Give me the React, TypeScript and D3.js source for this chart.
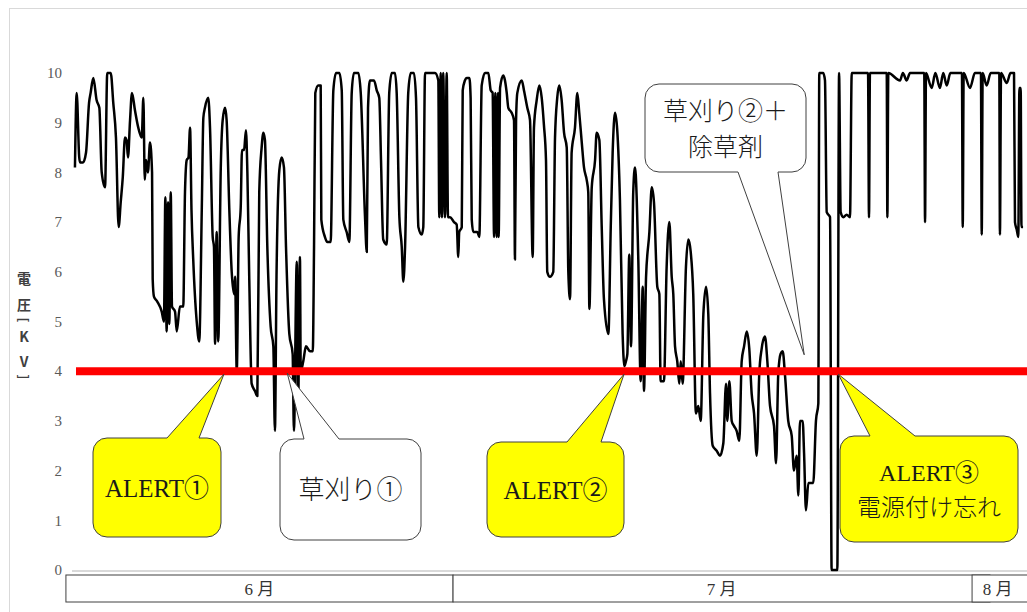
import React from 'react';
import * as d3 from 'd3';

const W = 1027;
const H = 612;

// [経過日数, 電圧 kV]
const voltage: [number, number][] = [
  [0.06, 8.1], [0.17, 9.6], [0.33, 8.3], [0.38, 8.2], [0.57, 8.2], [0.76, 8.4], [0.95, 9.4], [1.05, 9.6],
  [1.22, 9.9], [1.43, 9.45], [1.6, 9.3], [1.75, 8.0], [1.96, 7.7], [2.1, 10.0], [2.32, 10.0], [2.48, 9.4],
  [2.65, 8.7], [2.82, 6.9], [2.95, 7.4], [3.08, 7.9], [3.22, 8.7], [3.32, 8.65], [3.41, 8.3], [3.54, 9.05],
  [3.66, 9.6], [3.85, 9.25], [4.06, 8.9], [4.28, 8.7], [4.38, 9.5], [4.47, 7.85], [4.55, 8.25], [4.67, 8.0],
  [4.8, 8.6], [4.93, 8.0], [4.97, 5.85], [5.05, 5.5], [5.26, 5.4], [5.54, 5.2], [5.68, 5.0], [5.77, 7.5],
  [5.85, 4.8], [5.94, 7.4], [6.02, 4.95], [6.11, 7.6], [6.19, 5.3], [6.38, 5.2], [6.49, 4.8], [6.69, 5.3],
  [6.9, 5.3], [7.01, 7.6], [7.12, 8.25], [7.23, 8.3], [7.33, 8.9], [7.42, 7.25], [7.53, 6.25], [7.75, 5.0],
  [7.91, 4.6], [8.07, 7.25], [8.17, 9.1], [8.27, 9.3], [8.48, 9.5], [8.59, 8.9], [8.76, 6.7], [8.84, 6.5],
  [8.91, 4.55], [9.01, 6.8], [9.11, 4.6], [9.27, 8.1], [9.39, 9.05], [9.54, 9.3], [9.64, 9.05], [9.81, 7.25],
  [9.96, 6.0], [10.11, 5.55], [10.17, 5.9], [10.28, 4.0], [10.4, 6.7], [10.53, 7.3], [10.61, 8.45], [10.74, 8.45],
  [10.86, 8.85], [10.95, 8.0], [11.07, 5.85], [11.22, 3.75], [11.43, 3.6], [11.58, 3.5], [11.7, 7.6], [11.85, 8.5],
  [11.96, 8.8], [12.06, 8.65], [12.21, 6.5], [12.42, 4.9], [12.59, 4.5], [12.69, 2.8], [12.79, 5.9], [12.97, 8.05],
  [13.12, 8.3], [13.26, 8.1], [13.39, 6.5], [13.6, 4.75], [13.81, 4.35], [13.89, 2.8], [14.07, 6.2], [14.15, 3.2],
  [14.27, 6.3], [14.32, 4.0], [14.48, 4.2], [14.65, 4.5], [14.91, 4.4], [15.08, 4.4], [15.16, 6.5], [15.24, 9.6],
  [15.43, 9.75], [15.58, 9.75], [15.62, 7.05], [15.85, 6.7], [16.0, 6.6], [16.21, 6.6], [16.38, 9.65], [16.55, 10.0],
  [16.76, 10.0], [16.91, 9.65], [17.01, 7.05], [17.22, 6.8], [17.39, 6.6], [17.54, 9.6], [17.68, 10.0], [17.96, 10.0],
  [18.11, 9.6], [18.38, 7.1], [18.49, 6.4], [18.57, 9.3], [18.69, 9.85], [18.95, 9.85], [19.12, 9.65], [19.28, 9.5],
  [19.39, 8.25], [19.53, 6.65], [19.75, 6.55], [19.91, 9.6], [20.07, 10.0], [20.27, 10.0], [20.38, 9.6], [20.55, 7.1],
  [20.7, 6.5], [20.8, 5.8], [20.91, 6.5], [21.11, 9.6], [21.27, 10.0], [21.47, 10.0], [21.6, 9.5], [21.75, 6.9],
  [21.96, 6.75], [22.06, 6.9], [22.17, 10.0], [22.8, 10.0], [23.01, 9.85], [23.07, 7.1], [23.16, 10.0], [23.24, 7.1],
  [23.32, 10.0], [23.43, 7.1], [23.54, 10.0], [23.62, 7.1], [23.75, 7.1], [24.0, 7.0], [24.17, 6.95], [24.27, 6.3],
  [24.33, 6.8], [24.49, 6.9], [24.55, 9.65], [24.69, 9.85], [24.8, 9.9], [24.97, 9.9], [25.05, 9.5], [25.12, 7.05],
  [25.22, 6.8], [25.47, 6.8], [25.6, 6.7], [25.75, 9.75], [25.96, 10.0], [26.17, 10.0], [26.32, 9.65], [26.44, 9.6],
  [26.53, 6.7], [26.61, 9.6], [26.7, 6.7], [26.78, 9.6], [26.82, 6.7], [26.91, 9.7], [27.11, 9.95], [27.22, 9.85],
  [27.33, 9.6], [27.43, 9.3], [27.64, 9.2], [27.79, 9.05], [27.85, 6.25], [27.92, 9.05], [28.0, 9.6], [28.28, 9.85],
  [28.42, 9.65], [28.63, 9.3], [28.8, 9.05], [28.97, 6.3], [29.05, 8.9], [29.22, 9.45], [29.39, 9.75], [29.54, 9.5],
  [29.68, 8.95], [29.81, 8.25], [29.89, 6.0], [30.06, 5.9], [30.27, 6.0], [30.38, 8.7], [30.52, 9.5], [30.65, 9.75],
  [30.8, 9.45], [30.95, 8.8], [31.12, 8.5], [31.22, 6.0], [31.33, 5.45], [31.43, 8.4], [31.64, 8.9], [31.79, 9.6],
  [31.91, 9.2], [32.07, 8.6], [32.21, 8.1], [32.38, 7.85], [32.48, 7.6], [32.55, 5.25], [32.7, 7.7], [32.91, 8.25],
  [33.01, 8.8], [33.18, 8.65], [33.33, 6.9], [33.47, 5.45], [33.75, 4.75], [33.9, 6.9], [34.02, 8.4], [34.17, 9.2],
  [34.31, 8.85], [34.48, 7.45], [34.65, 4.75], [34.76, 4.1], [34.86, 4.2], [34.95, 4.35], [35.07, 6.35], [35.18, 4.5],
  [35.32, 7.6], [35.43, 8.1], [35.64, 6.25], [35.79, 3.8], [35.92, 5.7], [36.0, 3.6], [36.13, 5.9], [36.34, 6.8],
  [36.49, 7.7], [36.63, 7.4], [36.84, 5.7], [36.97, 5.55], [37.05, 3.8], [37.26, 3.8], [37.43, 6.1], [37.6, 7.0],
  [37.75, 5.9], [37.85, 5.55], [37.96, 4.5], [38.1, 4.2], [38.23, 3.75], [38.32, 4.2], [38.44, 3.75], [38.65, 6.1],
  [38.8, 6.65], [38.95, 6.4], [39.11, 5.55], [39.28, 3.15], [39.43, 3.3], [39.58, 3.0], [39.75, 5.15], [39.92, 5.7],
  [40.06, 5.15], [40.17, 3.55], [40.34, 2.5], [40.59, 2.4], [40.8, 2.3], [41.01, 2.55], [41.18, 3.75], [41.26, 3.0],
  [41.39, 3.8], [41.54, 3.0], [41.68, 2.9], [41.85, 2.8], [42.02, 2.6], [42.17, 4.2], [42.32, 4.5], [42.49, 4.8],
  [42.65, 4.45], [42.8, 3.55], [42.95, 3.15], [43.12, 2.3], [43.28, 3.95], [43.43, 4.45], [43.64, 4.7], [43.79, 4.2],
  [43.96, 3.3], [44.21, 2.9], [44.34, 2.15], [44.48, 3.95], [44.63, 4.35], [44.76, 4.4], [44.91, 3.9], [45.11, 3.0],
  [45.33, 2.7], [45.47, 2.0], [45.64, 2.3], [45.75, 1.5], [45.85, 3.0], [46.02, 3.0], [46.11, 2.35], [46.23, 1.2],
  [46.38, 1.75], [46.69, 1.75], [46.86, 3.0], [47.01, 3.35], [47.07, 10.0], [47.32, 10.0], [47.43, 9.85], [47.54, 7.2],
  [47.75, 7.1], [47.85, 0.0], [48.21, 0.0], [48.32, 10.0], [48.42, 7.2], [48.59, 7.1], [48.8, 7.15], [49.01, 7.1],
  [49.12, 10.0], [50.15, 10.0], [50.21, 7.1], [50.27, 10.0], [51.33, 10.0], [51.37, 7.1], [51.43, 10.0], [52.17, 9.85],
  [52.35, 10.0], [52.59, 9.85], [52.8, 10.0], [53.7, 10.0], [53.75, 7.0], [53.81, 10.0], [54.17, 9.7], [54.4, 10.0],
  [54.69, 9.7], [54.9, 10.0], [55.12, 9.75], [55.35, 10.0], [56.08, 10.0], [56.13, 6.9], [56.19, 10.0], [56.59, 9.7],
  [56.9, 10.0], [57.28, 10.0], [57.33, 6.75], [57.39, 10.0], [57.64, 9.75], [57.9, 10.0], [58.44, 10.0], [58.48, 6.75],
  [58.55, 10.0], [58.91, 9.8], [59.15, 10.0], [59.37, 10.0], [59.43, 7.0], [59.54, 6.85], [59.64, 6.7], [59.71, 9.7],
  [59.79, 9.7], [59.84, 6.9], [59.94, 6.9],
];

const yTicks = [0, 1, 2, 3, 4, 5, 6, 7, 8, 9, 10];
const alertLevel = 4;

// 月の表（日数で区切り）
const monthCells = [
  { label: '6 月', start: -0.51, end: 23.94 },
  { label: '7 月', start: 23.94, end: 57.85 },
  { label: '8 月', start: 56.72, end: 60.5 },
];

const yTitle = ['電', '圧', '[', 'K', 'V', ']'];

// 吹き出し: テキスト と 指し示す点 [日数, kV]
const notes = [
  { lines: ['ALERT①'], tip: [9.47, 3.94] as [number, number], alert: true },
  { lines: ['草刈り①'], tip: [13.47, 3.96] as [number, number], alert: false },
  { lines: ['ALERT②'], tip: [34.74, 3.94] as [number, number], alert: true },
  { lines: ['ALERT③', '電源付け忘れ'], tip: [48.27, 3.94] as [number, number], alert: true },
  { lines: ['草刈り②＋', '除草剤'], tip: [46.12, 4.33] as [number, number], alert: false },
];

// 吹き出しの箱の配置
const boxes = [
  { x: 93, y: 438, w: 128, h: 99, b1: 167, b2: 199, side: 'top', size: 25, lineY: [0] },
  { x: 280, y: 439, w: 141, h: 101, b1: 304, b2: 339, side: 'top', size: 26, lineY: [0] },
  { x: 487, y: 442, w: 137, h: 95, b1: 567, b2: 601, side: 'top', size: 25, lineY: [0] },
  { x: 840, y: 436, w: 178, h: 106, b1: 870, b2: 915, side: 'top', size: 24, lineY: [-17, 18] },
  { x: 645, y: 84, w: 161, h: 88, b1: 738, b2: 778, side: 'bottom', size: 25, lineY: [-17, 19] },
];

const serif = "'Liberation Serif', 'DejaVu Serif', 'Noto Sans CJK JP', serif";
const gothic = "'Noto Sans CJK JP', 'Noto Sans', sans-serif";

function calloutPath(b: typeof boxes[number], tx: number, ty: number) {
  const r = 14;
  const { x, y, w, h, b1, b2 } = b;
  const p = d3.path();
  p.moveTo(x + r, y);
  if (b.side === 'top') {
    p.lineTo(b1, y);
    p.lineTo(tx, ty);
    p.lineTo(b2, y);
  }
  p.lineTo(x + w - r, y);
  p.arcTo(x + w, y, x + w, y + r, r);
  p.lineTo(x + w, y + h - r);
  p.arcTo(x + w, y + h, x + w - r, y + h, r);
  if (b.side === 'bottom') {
    p.lineTo(b2, y + h);
    p.lineTo(tx, ty);
    p.lineTo(b1, y + h);
  }
  p.lineTo(x + r, y + h);
  p.arcTo(x, y + h, x, y + h - r, r);
  p.lineTo(x, y + r);
  p.arcTo(x, y, x + r, y, r);
  p.closePath();
  return p.toString();
}

const App: React.FC = () => {
  const x = d3.scaleLinear().domain([0, 60]).range([74, 1024]);
  const y = d3.scaleLinear().domain([0, 10]).range([570, 73]);

  const line = d3
    .line<[number, number]>()
    .x((d) => x(d[0]))
    .y((d) => y(d[1]))
    .curve(d3.curveMonotoneX);

  return (
    <svg
      width={W}
      height={H}
      style={{ position: 'absolute', left: 0, top: 0, background: '#fff' }}
    >
      <rect x={9.5} y={8.5} width={1040} height={640} fill="none" stroke="#d9d9d9" />

      {/* y tick labels */}
      {yTicks.map((t) => (
        <text
          key={t}
          x={62}
          y={y(t)}
          dy="0.35em"
          textAnchor="end"
          fontFamily={serif}
          fontSize={15}
          fill="#595959"
        >
          {t}
        </text>
      ))}

      {/* y title, vertical */}
      {yTitle.map((c, i) => {
        const cy = [279, 305, 320, 337, 362, 377][i];
        const isBracket = c === '[' || c === ']';
        return (
          <text
            key={i}
            x={24}
            y={cy}
            dy="0.36em"
            textAnchor="middle"
            fontFamily={gothic}
            fontWeight="bold"
            fontSize={isBracket ? 13 : 14}
            fill="#404040"
            transform={isBracket ? `rotate(90 24 ${cy})` : undefined}
          >
            {c}
          </text>
        );
      })}

      {/* axis baseline */}
      <line x1={72} x2={1027} y1={y(0) + 1} y2={y(0) + 1} stroke="#d9d9d9" strokeWidth={2} />

      {/* voltage line */}
      <path
        d={line(voltage) ?? ''}
        fill="none"
        stroke="#000"
        strokeWidth={2.5}
        strokeLinejoin="round"
      />

      {/* alert level */}
      <line x1={76} x2={1027} y1={y(alertLevel)} y2={y(alertLevel)} stroke="#ff0000" strokeWidth={8} />

      {/* month table */}
      {monthCells.map((m) => {
        const x0 = x(m.start);
        const x1 = x(m.end);
        return (
          <g key={m.label}>
            <rect x={x0} y={575} width={x1 - x0} height={27} fill="#fff" stroke="#404040" strokeWidth={1} />
            <text
              x={(x0 + Math.min(x1, 1027)) / 2 + (m.label === '8 月' ? -2 : 0)}
              y={589}
              dy="0.36em"
              textAnchor="middle"
              fontFamily={serif}
              fontSize={17}
              fill="#333"
            >
              {m.label}
            </text>
          </g>
        );
      })}

      {/* callouts */}
      {notes.map((n, i) => {
        const b = boxes[i];
        const tx = x(n.tip[0]);
        const ty = y(n.tip[1]);
        const cx = b.x + b.w / 2;
        const cy = b.y + b.h / 2;
        return (
          <g key={i}>
            <path
              d={calloutPath(b, tx, ty)}
              fill={n.alert ? '#ffff00' : '#fff'}
              stroke="#404040"
              strokeWidth={1}
            />
            {n.lines.map((l, j) => (
              <text
                key={j}
                x={cx}
                y={cy + b.lineY[j]}
                dy="0.36em"
                textAnchor="middle"
                fontFamily={l.startsWith('ALERT') ? serif : gothic}
                fontWeight={l.startsWith('ALERT') ? 'normal' : 300}
                fontSize={b.size}
                fill="#1a1a1a"
              >
                {l}
              </text>
            ))}
          </g>
        );
      })}
    </svg>
  );
};

export default App;
